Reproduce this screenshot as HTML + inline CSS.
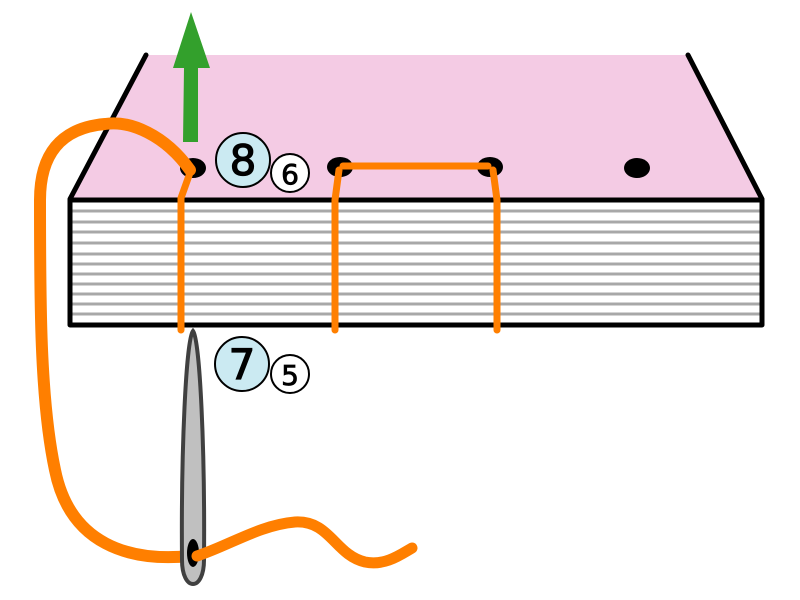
<!DOCTYPE html>
<html><head><style>html,body{margin:0;padding:0;background:#fff}svg{display:block}</style></head>
<body>
<svg width="800" height="600" viewBox="0 0 800 600" xmlns="http://www.w3.org/2000/svg">
<polygon points="70,199 146,55 688,55 762,199" fill="#f4cbe4"/>
<line x1="70" y1="199" x2="146" y2="55" stroke="#000" stroke-width="5" stroke-linecap="round"/>
<line x1="688" y1="55" x2="762" y2="199" stroke="#000" stroke-width="5" stroke-linecap="round"/>
<rect x="70" y="200" width="692" height="125" fill="#fff"/>
<g stroke="#a8a8a8" stroke-width="3">
<line x1="72" y1="211" x2="760" y2="211"/><line x1="72" y1="222" x2="760" y2="222"/>
<line x1="72" y1="232" x2="760" y2="232"/><line x1="72" y1="243" x2="760" y2="243"/>
<line x1="72" y1="254" x2="760" y2="254"/><line x1="72" y1="264" x2="760" y2="264"/>
<line x1="72" y1="274" x2="760" y2="274"/><line x1="72" y1="284" x2="760" y2="284"/>
<line x1="72" y1="294" x2="760" y2="294"/><line x1="72" y1="304" x2="760" y2="304"/>
<line x1="72" y1="314" x2="760" y2="314"/>
</g>
<rect x="70" y="200" width="692" height="125" fill="none" stroke="#000" stroke-width="5" stroke-linejoin="round"/>
<g fill="#000">
<ellipse cx="193" cy="168" rx="13" ry="10"/>
<ellipse cx="340" cy="167" rx="13" ry="10"/>
<ellipse cx="490" cy="167" rx="13" ry="10"/>
<ellipse cx="637" cy="168" rx="13" ry="10"/>
</g>
<polygon points="183,142 198,142 198,68 210,68 191,12 173,68 184,68" fill="#33a02c"/>
<g fill="none" stroke="#ff7f00" stroke-linecap="round" stroke-linejoin="round">
<path d="M191,170 L181,198 L181,330" stroke-width="7"/>
<path d="M339,170 L335,200 L335,330" stroke-width="7"/>
<path d="M343,166 L488,166" stroke-width="7"/>
<path d="M493,170 L497,200 L497,330" stroke-width="7"/>
<path d="M190,170 C165,135 130,120 105,124 C60,128 40,155 40,200 C40,300 40,400 55,470 C70,545 130,562 190,556" stroke-width="12"/>
</g>
<path d="M193,331 C200,340 205,450 204,560 C204,592 182,592 182,560 C181,450 186,340 193,331 Z" fill="#c0c0c0" stroke="#404040" stroke-width="4"/>
<ellipse cx="193" cy="553" rx="6" ry="14" fill="#000"/>
<path d="M197,556 C230,545 260,525 295,522 C330,520 335,555 365,562 C385,566 400,555 412,548" fill="none" stroke="#ff7f00" stroke-width="11" stroke-linecap="round"/>
<g font-family="DejaVu Sans, sans-serif" text-anchor="middle" stroke="#000" stroke-width="1.2">
<circle cx="243" cy="160" r="27" fill="#cbeaf2" stroke-width="2"/>
<text x="243" y="175" font-size="42">8</text>
<circle cx="290" cy="173" r="19" fill="#fff" stroke-width="2"/>
<text x="290" y="184" font-size="28" stroke-width="0.8">6</text>
<circle cx="242" cy="364" r="27" fill="#cbeaf2" stroke-width="2"/>
<text x="242" y="379" font-size="42">7</text>
<circle cx="290" cy="374" r="19" fill="#fff" stroke-width="2"/>
<text x="290" y="385" font-size="28" stroke-width="0.8">5</text>
</g>
</svg>
</body></html>
